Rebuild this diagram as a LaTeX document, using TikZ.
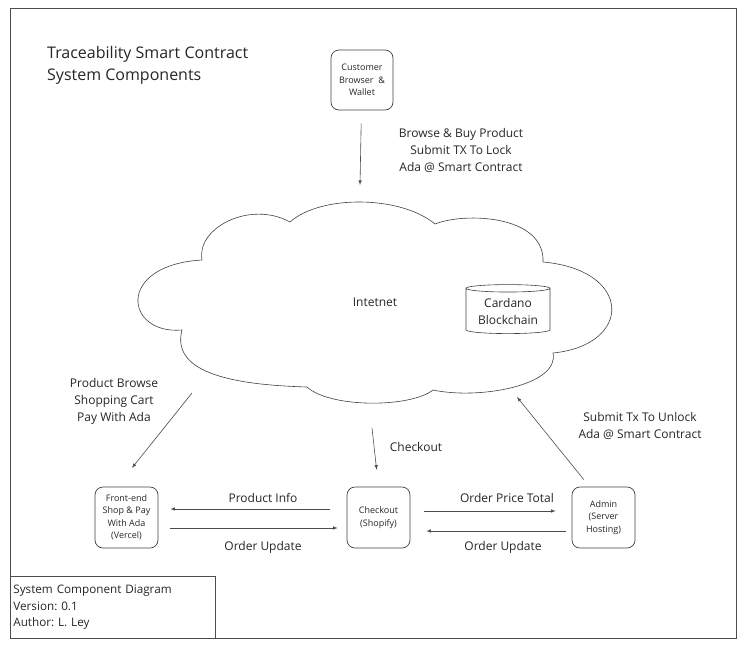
\documentclass[tikz,border=0pt]{standalone}
\usepackage{fontspec}
\setmainfont{Open Sans}
\usetikzlibrary{calc}
\usetikzlibrary{shapes.geometric}
\frenchspacing

\begin{document}
\begin{tikzpicture}[x=1pt,y=-1pt,
	compbox/.style={draw=black!75,line width=0.7pt,rounded corners=8pt,minimum width=63pt,minimum height=61pt,inner sep=1pt,align=center,text=black!85,font=\fontsize{9}{12.5}\selectfont},
	lbl/.style={align=center,text=black!85,font=\fontsize{12}{17}\selectfont},
	conn/.style={->,line width=0.6pt,draw=black!70}]
	\begin{scope}[>=latex] %filled arrow tips
	\useasboundingbox (0,0) rectangle (746,651);
	
	\pgfmathsetmacro\rowY{517.5} % bottom row of components
	
	%outer frame and info box
	\draw[line width=0.8pt,black!70] (10,8) rectangle (736,638);
	\node (info) at (10,576) [draw=black!70,line width=0.8pt,anchor=north west,minimum width=205pt,minimum height=62pt,text width=199pt,inner sep=3pt,align=left,text=black!85,font=\fontsize{11.7}{16.5}\selectfont] {System Component Diagram\\Version: 0.1\\Author: L. Ley};
	
	\node (title) at (47,65) [anchor=west,inner sep=0pt,align=left,text=black!85,font=\fontsize{16}{22}\selectfont] {Traceability Smart Contract\\System Components};
	
	%the cloud
	\draw[line width=0.6pt,black!75] (202,260)
		.. controls (196,228) and (250,200) .. (290,222)
		.. controls (320,195) and (400,195) .. (435,224)
		.. controls (465,212) and (545,215) .. (543,262)
		.. controls (633,270) and (633,345) .. (553,353)
		.. controls (560,385) and (480,400) .. (433,390)
		.. controls (410,408) and (330,408) .. (307,387)
		.. controls (240,385) and (170,375) .. (182,330)
		.. controls (125,335) and (115,265) .. cycle;
	
	\node (inet) at (375,302) [lbl] {Intetnet};
	\node (chain) at (508,311.5) [cylinder,shape border rotate=90,draw=black!75,line width=0.6pt,aspect=0.12,minimum width=84pt,minimum height=49pt,inner sep=1pt,lbl] {Cardano\\Blockchain};
	
	\coordinate (cloudTop) at (360,185);
	\coordinate (cloudSW) at (192,393);
	\coordinate (cloudS) at (372,428);
	\coordinate (cloudSE) at (517,397);
	
	%components
	\node (customer) at (362,80) [compbox,minimum width=62pt,minimum height=60pt] {Customer\\Browser \;\&\\Wallet};
	\node (front) at (126.5,\rowY) [compbox] {Front-end\\Shop \& Pay\\With Ada\\(Vercel)};
	\node (checkout) at (378.5,\rowY) [compbox] {Checkout\\(Shopify)};
	\node (admin) at (603.5,\rowY) [compbox] {Admin\\(Server\\Hosting)};
	
	%connectors
	\draw[conn,shorten <=13pt] (customer) -- (cloudTop);
	\draw[conn,shorten >=24pt] (cloudSW) -- ($(front.north)+(-9.5,0)$);
	\draw[conn,shorten >=17pt] (cloudS) -- (checkout.north);
	\draw[conn,shorten <=9pt] ($(admin.north)+(-14,0)$) -- (cloudSE);
	
	\draw[conn,shorten <=17pt,shorten >=12pt] ([yshift=8.5pt]checkout.west) -- ([yshift=8.5pt]front.east);
	\draw[conn,shorten <=12pt,shorten >=9pt] ([yshift=-10.5pt]front.east) -- ([yshift=-10.5pt]checkout.west);
	\draw[conn,shorten <=14pt,shorten >=16pt] ([yshift=6.5pt]checkout.east) -- ([yshift=6.5pt]admin.west);
	\draw[conn,shorten <=6pt,shorten >=16pt] ([yshift=-13.5pt]admin.west) -- ([yshift=-13.5pt]checkout.east);
	
	%labels
	\node (buyText) at (461,150) [lbl] {Browse \& Buy Product\\Submit TX To Lock\\Ada @ Smart Contract};
	\node (browseText) at (114,401) [lbl] {Product Browse\\Shopping Cart\\Pay With Ada};
	\node (checkoutText) at (416,447) [lbl] {Checkout};
	\node (unlockText) at (640,425.5) [lbl] {Submit Tx To Unlock\\Ada @ Smart Contract};
	\node (infoText) at (263,498) [lbl] {Product Info};
	\node (updText) at (263,547) [lbl] {Order Update};
	\node (priceText) at (507,498) [lbl] {Order Price Total};
	\node (updTextB) at (503,547) [lbl] {Order Update};
	
	\end{scope}
\end{tikzpicture}
\end{document}
